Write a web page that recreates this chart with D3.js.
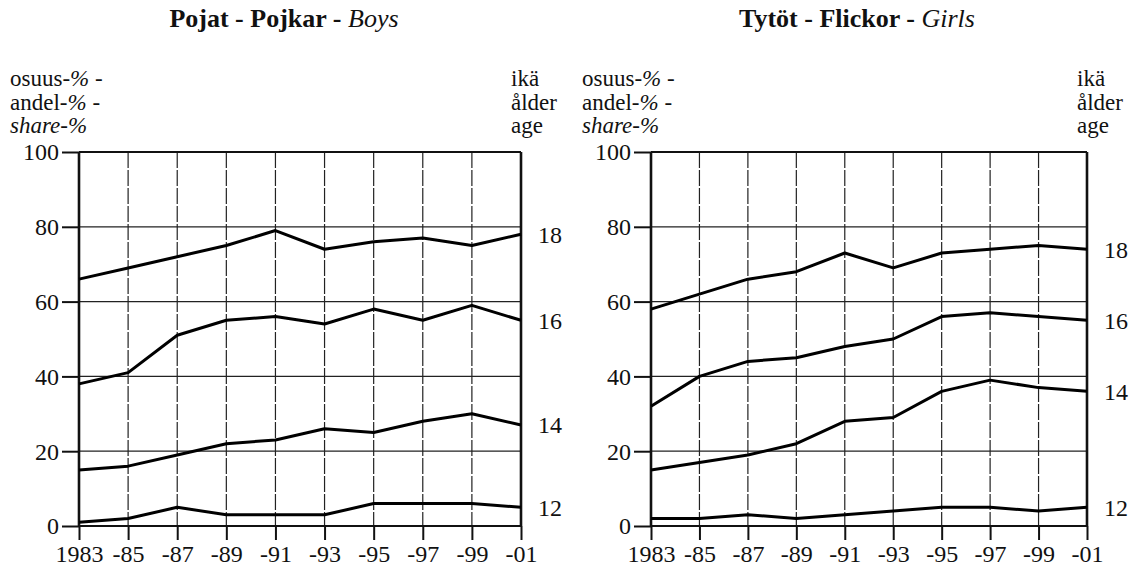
<!DOCTYPE html>
<html>
<head>
<meta charset="utf-8">
<script src="https://cdn.jsdelivr.net/npm/d3@7"></script>
<style>
  body { margin: 0; background: #fff; }
  svg text { font-family: 'Liberation Serif', 'Times New Roman', serif; fill: #111; }
</style>
</head>
<body>
<svg id="chart" width="1134" height="568"></svg>
<script>
const years = [1983, 1985, 1987, 1989, 1991, 1993, 1995, 1997, 1999, 2001];
const yearLabels = ['1983', '-85', '-87', '-89', '-91', '-93', '-95', '-97', '-99', '-01'];
const shareTicks = [0, 20, 40, 60, 80, 100];
const ages = ['18', '16', '14', '12'];

const boys18 = [66, 69, 72, 75, 79, 74, 76, 77, 75, 78];
const boys16 = [38, 41, 51, 55, 56, 54, 58, 55, 59, 55];
const boys14 = [15, 16, 19, 22, 23, 26, 25, 28, 30, 27];
const boys12 = [1, 2, 5, 3, 3, 3, 6, 6, 6, 5];

const girls18 = [58, 62, 66, 68, 73, 69, 73, 74, 75, 74];
const girls16 = [32, 40, 44, 45, 48, 50, 56, 57, 56, 55];
const girls14 = [15, 17, 19, 22, 28, 29, 36, 39, 37, 36];
const girls12 = [2, 2, 3, 2, 3, 4, 5, 5, 4, 5];

const svg = d3.select('#chart');

const y = d3.scaleLinear().domain([0, 100]).range([526, 152]);

function drawPanel(opts) {
  const x = d3.scaleLinear().domain([1983, 2001]).range([opts.x0, opts.x1]);
  const g = svg.append('g');

  // title
  const title = g.append('text')
    .attr('x', opts.titleX)
    .attr('y', 27)
    .attr('text-anchor', 'middle')
    .style('font-size', '26px');
  title.append('tspan').style('font-weight', 'bold').text(opts.title[0]);
  title.append('tspan').style('font-style', 'italic').text(' ' + opts.title[1]);

  // axis captions
  const left = g.append('text').style('font-size', '23px');
  [['osuus-', '%', ' -'], ['andel-', '%', ' -'], ['share-', '%', '']].forEach((row, i) => {
    const t = left.append('tspan').attr('x', opts.captionX).attr('y', 86 + i * 23.5);
    if (i === 2) {
      t.style('font-style', 'italic').text(row[0] + row[1]);
    } else {
      t.text(row[0]);
      left.append('tspan').style('font-style', 'italic').text(row[1]);
      left.append('tspan').text(row[2]);
    }
  });
  const right = g.append('text').style('font-size', '23px');
  ['ikä', 'ålder', 'age'].forEach((s, i) => {
    right.append('tspan').attr('x', opts.x1 - 10).attr('y', 86 + i * 23.5).text(s);
  });

  // gridlines
  g.append('g').selectAll('line').data(shareTicks.filter(d => d > 0 && d < 100)).join('line')
    .attr('x1', opts.x0).attr('x2', opts.x1)
    .attr('y1', d => y(d)).attr('y2', d => y(d))
    .attr('stroke', '#222').attr('stroke-width', 1.3);
  g.append('g').selectAll('line').data(years.slice(1, -1)).join('line')
    .attr('x1', d => x(d)).attr('x2', d => x(d))
    .attr('y1', y(100)).attr('y2', y(0))
    .attr('stroke', '#222').attr('stroke-width', 1.2)
    .attr('stroke-dasharray', '16,2');

  // left axis
  const yAxis = d3.axisLeft(y).tickValues(shareTicks).tickSize(17).tickPadding(3).tickFormat(d3.format('d'));
  const ya = g.append('g').attr('transform', `translate(${opts.x0},0)`).call(yAxis);
  ya.select('.domain').remove();
  ya.selectAll('.tick line').attr('stroke', '#111').attr('stroke-width', 2);
  ya.selectAll('.tick text').style('font-size', '24px').attr('font-family', null).attr('dy', '0.33em');

  // bottom axis
  const xAxis = d3.axisBottom(x).tickValues(years).tickSize(14).tickPadding(5)
    .tickFormat((d, i) => yearLabels[i]);
  const xa = g.append('g').attr('transform', `translate(0,${y(0)})`).call(xAxis);
  xa.select('.domain').remove();
  xa.selectAll('.tick line').attr('stroke', '#111').attr('stroke-width', 2);
  xa.selectAll('.tick text').style('font-size', '24px').attr('font-family', null);

  // frame: top, bottom, left, right
  g.append('line').attr('x1', opts.x0).attr('x2', opts.x1).attr('y1', y(100)).attr('y2', y(100))
    .attr('stroke', '#111').attr('stroke-width', 2.2);
  g.append('line').attr('x1', opts.x0).attr('x2', opts.x1).attr('y1', y(0)).attr('y2', y(0))
    .attr('stroke', '#111').attr('stroke-width', 2.2);
  g.append('line').attr('x1', opts.x0).attr('x2', opts.x0).attr('y1', y(100)).attr('y2', y(0))
    .attr('stroke', '#111').attr('stroke-width', 2.6);
  g.append('line').attr('x1', opts.x1).attr('x2', opts.x1).attr('y1', y(100)).attr('y2', y(0))
    .attr('stroke', '#111').attr('stroke-width', 2.6);

  // series
  const line = d3.line().x((d, i) => x(years[i])).y(d => y(d));
  g.append('g').selectAll('path').data(opts.series).join('path')
    .attr('d', line)
    .attr('fill', 'none').attr('stroke', '#000').attr('stroke-width', 3)
    .attr('stroke-linejoin', 'round');

  // age labels at line ends
  g.append('g').selectAll('text').data(opts.series).join('text')
    .attr('x', opts.x1 + 17)
    .attr('y', d => y(d[d.length - 1]))
    .attr('dy', '0.35em')
    .style('font-size', '24px')
    .text((d, i) => ages[i]);
}

drawPanel({
  x0: 79, x1: 521, captionX: 10, titleX: 284,
  title: ['Pojat - Pojkar -', 'Boys'],
  series: [boys18, boys16, boys14, boys12]
});
drawPanel({
  x0: 651, x1: 1087, captionX: 582, titleX: 857,
  title: ['Tytöt - Flickor -', 'Girls'],
  series: [girls18, girls16, girls14, girls12]
});
</script>
</body>
</html>
